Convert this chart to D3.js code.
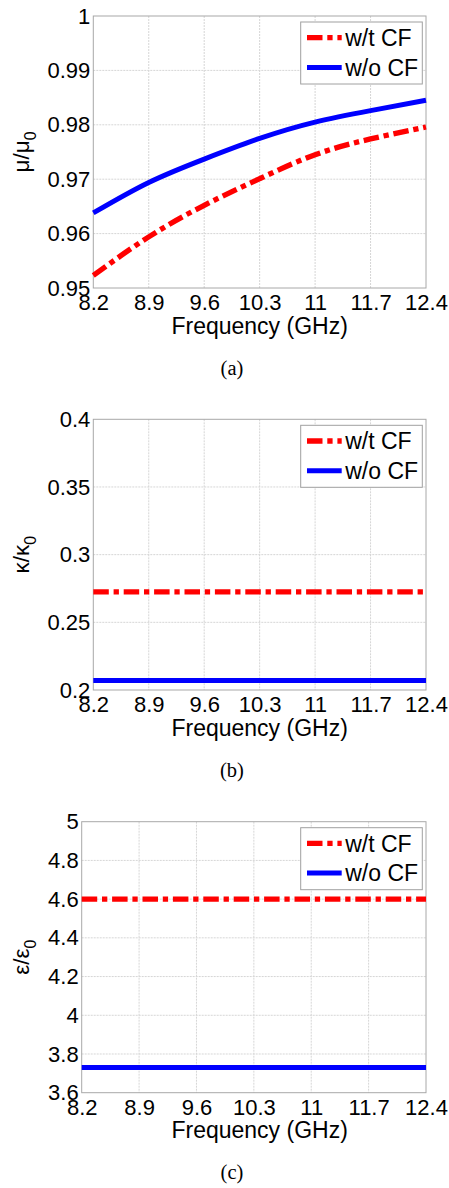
<!DOCTYPE html>
<html>
<head>
<meta charset="utf-8">
<script src="https://cdn.jsdelivr.net/npm/d3@7"></script>
<style>
  body { margin: 0; background: white; }
</style>
</head>
<body>
<div id="container"></div>
<script>
let w = 449;
let h = 1188;

// frequency points (GHz) used for every series
let freqTicks = [8.2, 8.9, 9.6, 10.3, 11, 11.7, 12.4];

// (a) mu / mu0
let muWithCF = [0.9523, 0.9594, 0.9652, 0.9701, 0.9745, 0.9774, 0.9796];
let muWithoutCF = [0.9638, 0.9694, 0.9737, 0.9775, 0.9805, 0.9826, 0.9845];
let muTicks = [0.95, 0.96, 0.97, 0.98, 0.99, 1];

// (b) kappa / kappa0
let kappaWithCF = [0.2725, 0.2725, 0.2725, 0.2725, 0.2725, 0.2725, 0.2725];
let kappaWithoutCF = [0.207, 0.207, 0.207, 0.207, 0.207, 0.207, 0.207];
let kappaTicks = [0.2, 0.25, 0.3, 0.35, 0.4];

// (c) eps / eps0
let epsWithCF = [4.6, 4.6, 4.6, 4.6, 4.6, 4.6, 4.6];
let epsWithoutCF = [3.73, 3.73, 3.73, 3.73, 3.73, 3.73, 3.73];
let epsTicks = [3.6, 3.8, 4, 4.2, 4.4, 4.6, 4.8, 5];

let legendLabels = ["w/t CF", "w/o CF"];

let sans = "'Liberation Sans', Arial, Helvetica, sans-serif";
let serif = "'Liberation Serif', 'DejaVu Serif', serif";
let redDash = "15.5,4.8,5.3,4.8";

let viz = d3.select("#container")
  .append("svg")
    .attr("class", "viz")
    .attr("width", w)
    .attr("height", h)
    .style("background-color", "white")
;

let panels = [
  {top: 16, bottom: 288, left: 93.3, withCF: muWithCF, withoutCF: muWithoutCF,
   ticks: muTicks, label: "μ/μ", caption: "(a)"},
  {top: 419.3, bottom: 690, left: 93.3, withCF: kappaWithCF, withoutCF: kappaWithoutCF,
   ticks: kappaTicks, label: "κ/κ", caption: "(b)"},
  {top: 821.7, bottom: 1092.7, left: 81.7, withCF: epsWithCF, withoutCF: epsWithoutCF,
   ticks: epsTicks, label: "ε/ε", caption: "(c)"}
];

panels.forEach(drawPanel);

function drawPanel(p){
  let right = 426;

  let x = d3.scaleLinear()
    .domain([freqTicks[0], freqTicks[freqTicks.length - 1]])
    .range([p.left, right]);

  let y = d3.scaleLinear()
    .domain([p.ticks[0], p.ticks[p.ticks.length - 1]])
    .range([p.bottom, p.top]);

  let g = viz.append("g").attr("class", "panel");

  // grid
  g.selectAll(".vgrid")
    .data(freqTicks.slice(1, -1))
    .enter()
    .append("line")
      .attr("x1", d => x(d))
      .attr("x2", d => x(d))
      .attr("y1", p.top)
      .attr("y2", p.bottom)
      .style("stroke", "#d6d6d6")
      .style("stroke-width", 1)
      .style("stroke-dasharray", "2,1")
  ;

  g.selectAll(".hgrid")
    .data(p.ticks.slice(1, -1))
    .enter()
    .append("line")
      .attr("x1", p.left)
      .attr("x2", right)
      .attr("y1", d => y(d))
      .attr("y2", d => y(d))
      .style("stroke", "#d6d6d6")
      .style("stroke-width", 1)
      .style("stroke-dasharray", "2,1")
  ;

  // frame
  g.append("rect")
    .attr("x", p.left)
    .attr("y", p.top)
    .attr("width", right - p.left)
    .attr("height", p.bottom - p.top)
    .attr("fill", "none")
    .style("stroke", "#a8a8a8")
    .style("stroke-width", 1)
  ;

  // lines
  let lineWith = d3.line()
    .x((d, i) => x(freqTicks[i]))
    .y(d => y(d))
    .curve(d3.curveNatural);

  g.append("path")
    .attr("d", lineWith(p.withoutCF))
    .attr("fill", "none")
    .style("stroke", "#0000ff")
    .style("stroke-width", 5)
  ;

  g.append("path")
    .attr("d", lineWith(p.withCF))
    .attr("fill", "none")
    .style("stroke", "#ff0000")
    .style("stroke-width", 5.3)
    .style("stroke-dasharray", redDash)
  ;

  // axes
  let yAxis = d3.axisLeft(y)
    .tickValues(p.ticks)
    .tickSize(0)
    .tickPadding(3)
    .tickFormat(d => String(d));

  let yg = g.append("g")
    .attr("transform", "translate(" + p.left + ",0)")
    .call(yAxis);
  yg.select(".domain").remove();
  yg.selectAll("text")
    .attr("fill", "black")
    .style("font-size", "22px")
    .style("font-family", sans);

  let xAxis = d3.axisBottom(x)
    .tickValues(freqTicks)
    .tickSize(0)
    .tickPadding(6.4)
    .tickFormat(d => String(d));

  let xg = g.append("g")
    .attr("transform", "translate(0," + p.bottom + ")")
    .call(xAxis);
  xg.select(".domain").remove();
  xg.selectAll("text")
    .attr("fill", "black")
    .style("font-size", "22px")
    .style("font-family", sans);

  // axis labels
  g.append("text")
    .text("Frequency (GHz)")
    .attr("x", (93.3 + right) / 2)
    .attr("y", p.bottom + 45.5)
    .attr("text-anchor", "middle")
    .attr("fill", "black")
    .style("font-size", "23px")
    .style("font-family", sans)
  ;

  let cy = (p.top + p.bottom) / 2;
  let yl = g.append("text")
    .attr("transform", "translate(29," + cy + ") rotate(-90)")
    .attr("text-anchor", "middle")
    .attr("fill", "black")
    .style("font-size", "22.5px")
    .style("font-family", sans)
  ;
  yl.append("tspan").text(p.label);
  yl.append("tspan")
    .text("0")
    .attr("dy", 6.5)
    .style("font-size", "16px");

  // caption
  g.append("text")
    .text(p.caption)
    .attr("x", 232)
    .attr("y", p.bottom + 86.5)
    .attr("text-anchor", "middle")
    .attr("fill", "black")
    .style("font-size", "20.5px")
    .style("font-family", serif)
  ;

  // legend
  let lg = g.append("g")
    .attr("transform", "translate(300.7," + (p.top + 6) + ")");

  lg.append("rect")
    .attr("x", 0)
    .attr("y", 0)
    .attr("width", 121.6)
    .attr("height", 62)
    .attr("fill", "white")
    .style("stroke", "#a0a0a0")
    .style("stroke-width", 1)
  ;

  let colors = ["#ff0000", "#0000ff"];
  let dashes = [redDash, null];
  let widths = [5.3, 5];

  legendLabels.forEach(function(lab, i){
    let ry = 15.7 + i * 29.7;
    lg.append("line")
      .attr("x1", 6.3)
      .attr("x2", 41)
      .attr("y1", ry)
      .attr("y2", ry)
      .style("stroke", colors[i])
      .style("stroke-width", widths[i])
      .style("stroke-dasharray", dashes[i])
    ;
    lg.append("text")
      .text(lab)
      .attr("x", 44.5)
      .attr("y", ry)
      .attr("dy", "0.36em")
      .attr("fill", "black")
      .style("font-size", "23px")
      .style("font-family", sans)
    ;
  });
}
</script>
</body>
</html>
